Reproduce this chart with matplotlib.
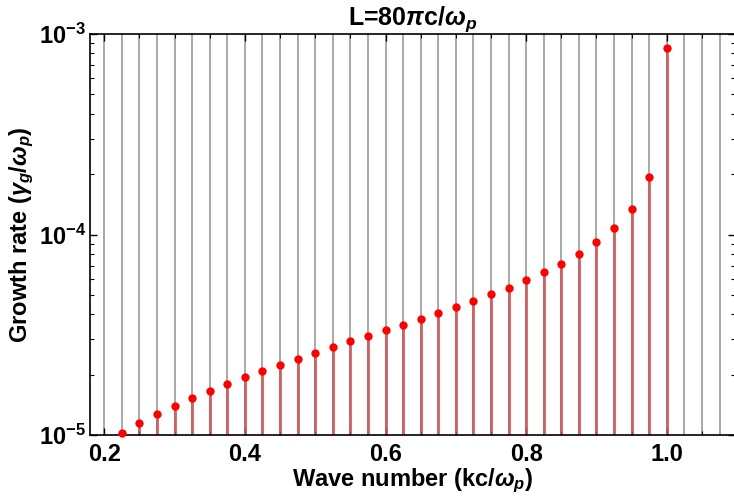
import numpy as np
import matplotlib
matplotlib.use("Agg")
import matplotlib.pyplot as plt
from matplotlib.ticker import LogLocator, MultipleLocator, NullFormatter, FixedLocator

plt.rcParams['font.family'] = ['Liberation Sans', 'DejaVu Sans']
plt.rcParams['font.weight'] = 'bold'
plt.rcParams['mathtext.fontset'] = 'custom'
plt.rcParams['mathtext.rm'] = 'Liberation Sans:bold'
plt.rcParams['mathtext.bf'] = 'Liberation Sans:bold'
plt.rcParams['mathtext.it'] = 'Liberation Sans:bold:italic'

# Data
wave_number = [0.225, 0.25, 0.275, 0.3, 0.325, 0.35, 0.375, 0.4, 0.425, 0.45,
               0.475, 0.5, 0.525, 0.55, 0.575, 0.6, 0.625, 0.65, 0.675, 0.7,
               0.725, 0.75, 0.775, 0.8, 0.825, 0.85, 0.875, 0.9, 0.925, 0.95,
               0.975, 1.0]
growth_rate = [1.027e-5, 1.152e-5, 1.273e-5, 1.40e-5, 1.53e-5, 1.66e-5, 1.80e-5,
               1.94e-5, 2.09e-5, 2.24e-5, 2.40e-5, 2.56e-5, 2.75e-5, 2.93e-5,
               3.12e-5, 3.33e-5, 3.55e-5, 3.79e-5, 4.06e-5, 4.33e-5, 4.68e-5,
               5.03e-5, 5.43e-5, 5.91e-5, 6.48e-5, 7.15e-5, 8.0e-5, 9.18e-5,
               1.077e-4, 1.345e-4, 1.94e-4, 8.51e-4]
grid_k = [0.2 + 0.025 * i for i in range(36)]
x_ticks = [0.2, 0.4, 0.6, 0.8, 1.0]
x_ticklabels = ['0.2', '0.4', '0.6', '0.8', '1.0']
y_ticks = [1e-5, 1e-4, 1e-3]
y_ticklabels = [r'$\mathbf{10^{-5}}$', r'$\mathbf{10^{-4}}$', r'$\mathbf{10^{-3}}$']

W, H = 734, 496
fig = plt.figure(figsize=(W / 100, H / 100), dpi=100)
ax = fig.add_axes([90 / W, (H - 435) / H, 645 / W, 401 / H])

ymin, ymax = 1e-5, 1e-3
ax.set_yscale('log')
ax.set_xlim(0.1797, 1.097)
ax.set_ylim(ymin, ymax)

for g in grid_k:
    ax.axvline(g, color='#a8a8a8', lw=1.4, zorder=1)

ax.vlines(wave_number, ymin, growth_rate, colors='#c85a5a', alpha=0.85, lw=2.2, zorder=2)
ax.plot(wave_number, growth_rate, 'o', color='red', ms=6, mec='none', zorder=3,
        clip_on=False)

ax.xaxis.set_major_locator(FixedLocator(x_ticks))
ax.set_xticklabels(x_ticklabels)
ax.xaxis.set_minor_locator(MultipleLocator(0.05))
ax.yaxis.set_major_locator(FixedLocator(y_ticks))
ax.set_yticklabels(y_ticklabels)
ax.yaxis.set_minor_locator(LogLocator(base=10, subs=np.arange(2, 10)))
ax.yaxis.set_minor_formatter(NullFormatter())

ax.tick_params(which='both', direction='in', top=True, right=True, labelsize=17,
               color='black', pad=6)
ax.tick_params(which='major', length=5, width=1.0)
ax.tick_params(which='minor', length=3, width=0.8)
ax.tick_params(axis='y', which='major', pad=3)

for s in ax.spines.values():
    s.set_linewidth(1.2)
    s.set_color('black')

ax.set_title(r'L=80$\mathit{\pi}$c/$\mathit{\omega_p}$', fontsize=18, fontweight='bold', pad=5)
ax.set_xlabel(r'Wave number (kc/$\mathit{\omega_p}$)', fontsize=17, fontweight='bold', labelpad=0)
ax.set_ylabel(r'Growth rate ($\mathit{\gamma_g}$/$\mathit{\omega_p}$)', fontsize=17,
              fontweight='bold', labelpad=2)

fig.savefig('out.png', dpi=100)
